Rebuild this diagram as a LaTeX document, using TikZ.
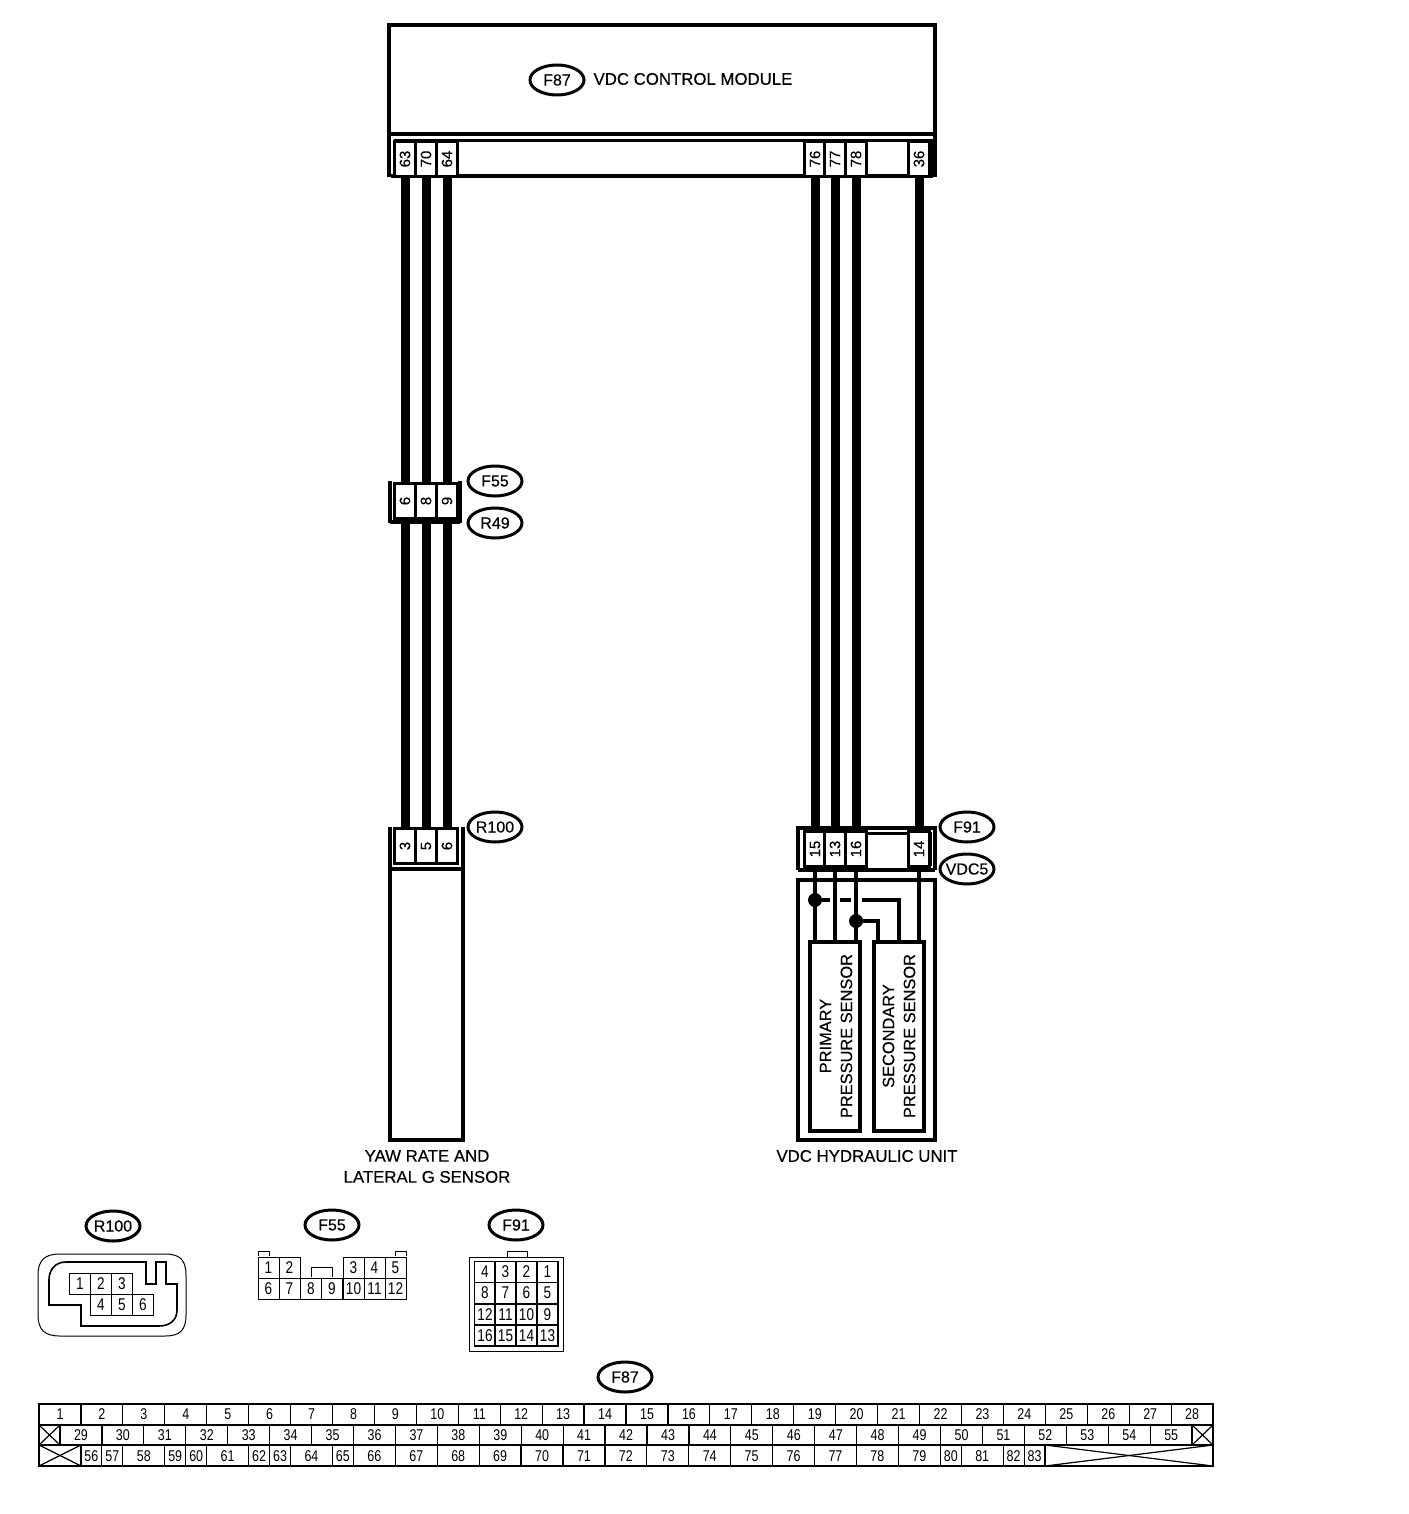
\documentclass[tikz,border=0pt]{standalone}
\usepackage{fontspec}
\setmainfont{Liberation Sans}
\newfontfamily\heavyfont[FakeBold=0.35]{Liberation Sans}
\newfontfamily\narrowfont[FakeStretch=0.8]{Liberation Sans}
\usetikzlibrary{calc}
\usetikzlibrary{shapes.geometric}
\tikzset{
    frame/.style={line width=2pt},
    thinframe/.style={line width=0.5pt},
    oval/.style={ellipse,draw,line width=1.5pt,minimum width=27pt,minimum height=15pt,inner ysep=0pt,inner xsep=-1.5pt,font=\heavyfont\fontsize{8}{9}\selectfont},
    pin/.style={rectangle,draw,fill=white,line width=1.5pt,rotate=90,minimum width=17.5pt,minimum height=10.5pt,inner sep=0pt,font=\heavyfont\fontsize{7.5}{8}\selectfont},
    wire/.style={line width=4.5pt},
    senseline/.style={line width=1.8pt},
    junction/.style={circle,fill=black,minimum size=7pt,inner sep=0pt},
    sensorbox/.style={rectangle,draw,line width=2pt,minimum width=25pt,minimum height=94.5pt,inner sep=0pt},
    sensortext/.style={rotate=90,align=center,font=\heavyfont\fontsize{8.2}{10.5}\selectfont},
    caption/.style={align=center,inner sep=0pt,font=\heavyfont\fontsize{8.4}{10.5}\selectfont},
    cell/.style={rectangle,draw,line width=0.5pt,minimum size=10.5pt,inner sep=0pt,font=\narrowfont\fontsize{8.5}{9}\selectfont},
    gridcell/.style={cell,line width=0.8pt},
    tabletext/.style={inner sep=0pt,font=\narrowfont\fontsize{7.8}{8}\selectfont}
}
\begin{document}
\begin{tikzpicture}[x=0.5pt,y=-0.5pt]
    \useasboundingbox (0,0) rectangle (1408,1514);
    % control module
    \draw[frame] (389,177) -- (389,25) -- (935,25) -- (935,177);
    \draw[frame] (389,134) -- (935,134);
    \draw[line width=1.5pt] (395,177) -- (395,141) -- (931,141) -- (931,177);
    \draw[frame] (391,176) -- (933,176);
    \node[oval] (ovalF87) at (557,80) {F87};
    \node[caption] (modulename) at (693,79) {VDC CONTROL MODULE};
    \node[pin] (m63) at (405,159) {63};
    \node[pin] (m70) at (426,159) {70};
    \node[pin] (m64) at (447,159) {64};
    \node[pin] (m76) at (815,159) {76};
    \node[pin] (m77) at (835,159) {77};
    \node[pin] (m78) at (856,159) {78};
    \node[pin] (m36) at (919,159) {36};
    % joint connector
    \draw[frame] (390,523) -- (390,481);
    \draw[frame] (460,523) -- (460,481);
    \draw[frame] (390,522) -- (460,522);
    \node[oval] (ovalF55) at (495,481) {F55};
    \node[oval] (ovalR49) at (495,523) {R49};
    \node[pin] (j6) at (405,501) {6};
    \node[pin] (j8) at (426,501) {8};
    \node[pin] (j9) at (447,501) {9};
    % yaw rate sensor
    \draw[frame] (390,827) -- (390,1140) -- (463,1140) -- (463,827);
    \draw[frame] (390,869) -- (463,869);
    \node[oval] (ovalR100) at (495,827) {R100};
    \node[pin] (y3) at (405,846) {3};
    \node[pin] (y5) at (426,846) {5};
    \node[pin] (y6) at (447,846) {6};
    \node[caption] (yawname) at (427,1166.5) {YAW RATE AND\\LATERAL G SENSOR};
    % hydraulic unit connector
    \draw[frame] (798,870) -- (798,828) -- (935,828) -- (935,870);
    \draw[frame] (798,870) -- (935,870);
    \draw[line width=1.5pt] (804,866) -- (804,833) -- (930,833) -- (930,866);
    \node[oval] (ovalF91) at (967,827) {F91};
    \node[oval] (ovalVDC5) at (967,869) {VDC5};
    \node[pin] (h15) at (815,849) {15};
    \node[pin] (h13) at (835,849) {13};
    \node[pin] (h16) at (856,849) {16};
    \node[pin] (h14) at (919,849) {14};
    % hydraulic unit
    \draw[frame] (798,880) rectangle (935,1140);
    \node[sensorbox] (primary) at (835,1036) {};
    \node[sensorbox] (secondary) at (899,1036) {};
    \node[sensortext] (primarytext) at (836,1036) {PRIMARY\\PRESSURE SENSOR};
    \node[sensortext] (secondarytext) at (899,1036) {SECONDARY\\PRESSURE SENSOR};
    \node[caption] (unitname) at (867,1156) {VDC HYDRAULIC UNIT};
    \node[junction] (jA) at (815,900) {};
    \node[junction] (jB) at (856,921) {};
    \coordinate (gapA) at (830,900);
    \coordinate (gapB) at (840,900);
    \coordinate (gapC) at (851,900);
    \coordinate (gapD) at (862,900);
    \coordinate (secL) at (878,941);
    \coordinate (secR) at (899,941);
    % harness
    \draw[wire] (m63) -- (j6);
    \draw[wire] (m70) -- (j8);
    \draw[wire] (m64) -- (j9);
    \draw[wire] (j6) -- (y3);
    \draw[wire] (j8) -- (y5);
    \draw[wire] (j9) -- (y6);
    \draw[wire] (m76) -- (h15);
    \draw[wire] (m77) -- (h13);
    \draw[wire] (m78) -- (h16);
    \draw[wire] (m36) -- (h14);
    \draw[senseline] (h15) -- (h15 |- primary.north);
    \draw[senseline] (h13) -- (h13 |- primary.north);
    \draw[senseline] (h16) -- (h16 |- primary.north);
    \draw[senseline] (h14) -- (h14 |- secondary.north);
    \draw[senseline] (jA) -- (gapA);
    \draw[senseline] (gapB) -- (gapC);
    \draw[senseline] (gapD) -| (secR);
    \draw[senseline] (jB) -| (secL);
    % R100 face
    \node[oval] (faceR100) at (113,1226) {R100};
    \draw[thinframe] (38,1275) .. controls (38,1260) and (45,1254) .. (60,1254) -- (165,1254)
        .. controls (180,1254) and (186,1260) .. (186,1275) -- (186,1315)
        .. controls (186,1330) and (180,1336) .. (165,1336) -- (60,1336)
        .. controls (45,1336) and (38,1330) .. (38,1315) -- cycle;
    \draw[line width=0.8pt] (49,1305) -- (49,1280) .. controls (49,1270) and (55,1262) .. (66,1262)
        -- (146,1262) -- (146,1284) -- (156,1284) -- (156,1262) -- (166,1262) -- (166,1284) -- (177,1284)
        -- (177,1310) .. controls (177,1320) and (170,1326) .. (159,1326) -- (81,1326) -- (81,1305) -- cycle;
    \node[cell] (r1) at (80,1284) {1};
    \node[cell] (r2) at (101,1284) {2};
    \node[cell] (r3) at (122,1284) {3};
    \node[cell] (r4) at (101,1305) {4};
    \node[cell] (r5) at (122,1305) {5};
    \node[cell] (r6) at (143,1305) {6};
    % F55 face
    \node[oval] (faceF55) at (332,1225) {F55};
    \draw[thinframe] (258,1256) -- (258,1251) -- (269,1251) -- (269,1256);
    \draw[thinframe] (395,1256) -- (395,1251) -- (406,1251) -- (406,1256);
    \draw[thinframe] (311,1277) -- (311,1267) -- (332,1267) -- (332,1277);
    \node[cell] (f1) at (268.5,1267.5) {1};
    \node[cell] (f2) at (289.5,1267.5) {2};
    \node[cell] (f3) at (353.5,1267.5) {3};
    \node[cell] (f4) at (374.5,1267.5) {4};
    \node[cell] (f5) at (395.5,1267.5) {5};
    \node[cell] (f6) at (268.5,1288.5) {6};
    \node[cell] (f7) at (289.5,1288.5) {7};
    \node[cell] (f8) at (311,1288.5) {8};
    \node[cell] (f9) at (332,1288.5) {9};
    \node[cell] (f10) at (353.5,1288.5) {10};
    \node[cell] (f11) at (374.5,1288.5) {11};
    \node[cell] (f12) at (395.5,1288.5) {12};
    % F91 face
    \node[oval] (faceF91) at (516,1225) {F91};
    \draw[thinframe] (469,1257) rectangle (563,1351);
    \draw[thinframe] (507,1257) -- (507,1251) -- (527,1251) -- (527,1257);
    \node[gridcell] (h4) at (485,1272) {4};
    \node[gridcell] (h3) at (505.5,1272) {3};
    \node[gridcell] (h2) at (526.5,1272) {2};
    \node[gridcell] (h1) at (547.5,1272) {1};
    \node[gridcell] (h8) at (485,1293) {8};
    \node[gridcell] (h7) at (505.5,1293) {7};
    \node[gridcell] (h6) at (526.5,1293) {6};
    \node[gridcell] (h5) at (547.5,1293) {5};
    \node[gridcell] (h12) at (485,1314.5) {12};
    \node[gridcell] (h11) at (505.5,1314.5) {11};
    \node[gridcell] (h10) at (526.5,1314.5) {10};
    \node[gridcell] (h9) at (547.5,1314.5) {9};
    \node[gridcell] (h16f) at (485,1335.5) {16};
    \node[gridcell] (h15f) at (505.5,1335.5) {15};
    \node[gridcell] (h14f) at (526.5,1335.5) {14};
    \node[gridcell] (h13f) at (547.5,1335.5) {13};
    % F87 face
    \node[oval] (faceF87) at (625,1377) {F87};
    \foreach \n [count=\i from 0] in {1,...,28} {
        \draw[line width=0.6pt] ({39+\i*41.93},1404) rectangle ({39+(\i+1)*41.93},1425);
        \node[tabletext] (a\n) at ({60+\i*41.93},1414.5) {\n};
    }
    \foreach \n [count=\i from 0] in {29,...,55} {
        \draw[line width=0.6pt] ({60+\i*41.93},1425) rectangle ({60+(\i+1)*41.93},1445);
        \node[tabletext] (b\n) at ({81+\i*41.93},1435) {\n};
    }
    \foreach \n/\a/\b in {56/2/3,57/3/4,58/4/6,59/6/7,60/7/8,61/8/10,62/10/11,63/11/12,64/12/14,65/14/15,
        66/15/17,67/17/19,68/19/21,69/21/23,70/23/25,71/25/27,72/27/29,73/29/31,74/31/33,75/33/35,
        76/35/37,77/37/39,78/39/41,79/41/43,80/43/44,81/44/46,82/46/47,83/47/48} {
        \draw[line width=0.6pt] ({39+\a*20.96},1445) rectangle ({39+\b*20.96},1466);
        \node[tabletext] (c\n) at ({39+(\a+\b)*10.48},1456) {\n};
    }
    \draw[line width=0.6pt] (39,1425) rectangle (60,1445);
    \draw[line width=0.6pt] (39,1425) -- (60,1445);
    \draw[line width=0.6pt] (39,1445) -- (60,1425);
    \draw[line width=0.6pt] (1192,1425) rectangle (1213,1445);
    \draw[line width=0.6pt] (1192,1425) -- (1213,1445);
    \draw[line width=0.6pt] (1192,1445) -- (1213,1425);
    \draw[line width=0.6pt] (39,1445) rectangle (81,1466);
    \draw[line width=0.6pt] (39,1445) -- (81,1466);
    \draw[line width=0.6pt] (39,1466) -- (81,1445);
    \draw[line width=0.6pt] (1045,1445) rectangle (1213,1466);
    \draw[line width=0.6pt] (1045,1445) -- (1213,1466);
    \draw[line width=0.6pt] (1045,1466) -- (1213,1445);
\end{tikzpicture}
\end{document}
